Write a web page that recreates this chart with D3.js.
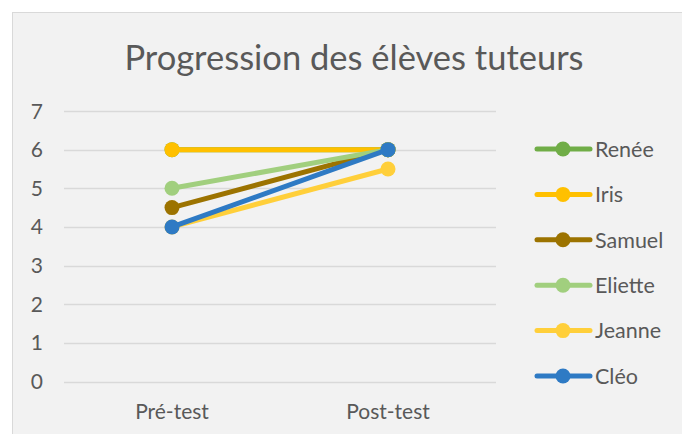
<!DOCTYPE html>
<html>
<head>
<meta charset="utf-8">
<script src="https://cdn.jsdelivr.net/npm/d3@7"></script>
<style>
  body { margin: 0; background: #fff; }
  text { font-family: Lato, "Open Sans", sans-serif; fill: #595959; }
</style>
</head>
<body>
<script>
// data
var categories = ["Pré-test", "Post-test"];
var names  = ["Renée", "Iris", "Samuel", "Eliette", "Jeanne", "Cléo"];
var colors = ["#70AD47", "#FFC000", "#9C7300", "#A1CF7E", "#FFCF3A", "#2E7AC4"];
var preTest  = [6, 6, 4.5, 5, 4, 4];
var postTest = [6, 6, 6, 6, 5.5, 6];
var yTicks = [0, 1, 2, 3, 4, 5, 6, 7];

var W = 682, H = 434;
var margin = {top: 111, left: 64, right: 186, bottom: 52};

var svg = d3.select("body").append("svg")
  .attr("width", W).attr("height", H);

// chart area
svg.append("rect")
  .attr("x", 12.5).attr("y", 12.5)
  .attr("width", W).attr("height", H)
  .attr("fill", "#F2F2F2")
  .attr("stroke", "#D9D9D9");

svg.append("text")
  .attr("x", 354).attr("y", 70)
  .attr("text-anchor", "middle")
  .style("font-size", "34.5px")
  .text("Progression des élèves tuteurs");

var x = d3.scalePoint()
  .domain(categories)
  .range([margin.left, W - margin.right])
  .padding(0.5);

var y = d3.scaleLinear()
  .domain([0, 7])
  .range([381.5, margin.top]);

// gridlines
svg.append("g").selectAll("line")
  .data(yTicks)
  .enter().append("line")
  .attr("x1", margin.left).attr("x2", W - margin.right)
  .attr("y1", function(d){ return Math.round(y(d)) + 0.5; })
  .attr("y2", function(d){ return Math.round(y(d)) + 0.5; })
  .attr("stroke", "#D9D9D9")
  .attr("stroke-width", 1.3);

// y labels
svg.append("g").selectAll("text")
  .data(yTicks)
  .enter().append("text")
  .attr("x", 43).attr("y", function(d){ return y(d); })
  .attr("dy", "0.36em")
  .attr("text-anchor", "end")
  .style("font-size", "21px")
  .text(function(d){ return d; });

// x labels
svg.append("g").selectAll("text")
  .data(categories)
  .enter().append("text")
  .attr("x", function(d){ return x(d); })
  .attr("y", 419)
  .attr("text-anchor", "middle")
  .style("font-size", "21px")
  .text(function(d){ return d; });

var series = names.map(function(n, i){
  return {name: n, color: colors[i], values: [preTest[i], postTest[i]]};
});

var line = d3.line()
  .x(function(d, i){ return x(categories[i]); })
  .y(function(d){ return y(d); });

var g = svg.selectAll(".serie")
  .data(series)
  .enter().append("g")
  .attr("class", "serie");

g.append("path")
  .attr("d", function(d){ return line(d.values); })
  .attr("fill", "none")
  .attr("stroke", function(d){ return d.color; })
  .attr("stroke-width", 5)
  .attr("stroke-linecap", "round");

g.selectAll("circle")
  .data(function(d){ return d.values.map(function(v, i){ return {v: v, i: i, c: d.color}; }); })
  .enter().append("circle")
  .attr("cx", function(d){ return x(categories[d.i]); })
  .attr("cy", function(d){ return y(d.v); })
  .attr("r", 7.5)
  .attr("fill", function(d){ return d.c; });

// legend
var legend = svg.selectAll(".leg")
  .data(series)
  .enter().append("g")
  .attr("class", "leg")
  .attr("transform", function(d, i){ return "translate(0," + (149 + i * 45.4) + ")"; });

legend.append("line")
  .attr("x1", 537).attr("x2", 590)
  .attr("stroke", function(d){ return d.color; })
  .attr("stroke-width", 5)
  .attr("stroke-linecap", "round");

legend.append("circle")
  .attr("cx", 563).attr("r", 7.5)
  .attr("fill", function(d){ return d.color; });

legend.append("text")
  .attr("x", 595).attr("dy", "0.36em")
  .style("font-size", "21.5px")
  .text(function(d){ return d.name; });
</script>
</body>
</html>
